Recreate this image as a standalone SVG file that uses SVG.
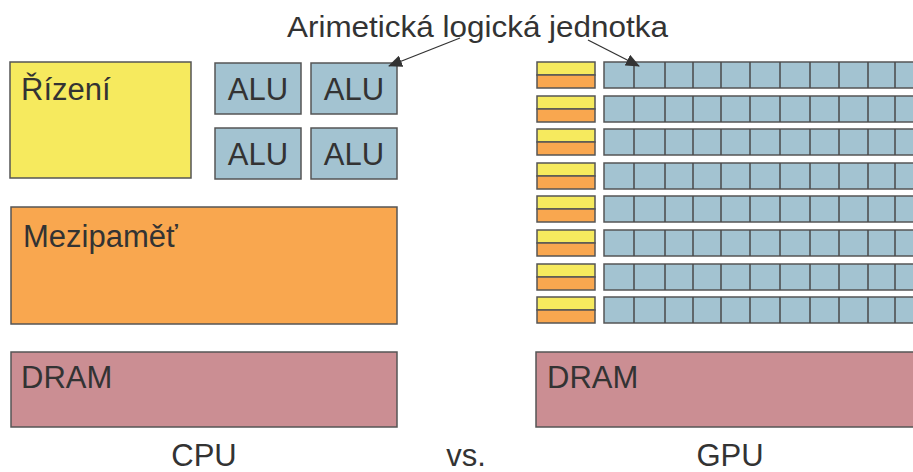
<svg xmlns="http://www.w3.org/2000/svg" width="913" height="472" viewBox="0 0 913 472">
  <style>
    text { font-family: "Liberation Sans", Arial, sans-serif; fill: #333333; }
    .lbl { font-size: 31px; }
    .box { stroke: #555555; stroke-width: 1.5; }
    .ctl { fill: #F6EA5E; }
    .cache { fill: #F9A74F; }
    .alu { fill: #A3C3D1; }
    .dram { fill: #CB8E93; }
    .cell { stroke: #4a4a4a; stroke-width: 1.5; }
    .conn { stroke: #333333; stroke-width: 1.3; fill: none; marker-end: url(#head); }
  </style>
  <defs>
    <marker id="head" viewBox="0 0 14 12" refX="13" refY="6" markerWidth="14" markerHeight="12" markerUnits="userSpaceOnUse" orient="auto">
      <path d="M0,0 L14,6 L0,12 z" fill="#333333"/>
    </marker>
    <!-- one GPU row: control/cache block and a strip of ALU cells -->
    <g id="gpuRow">
      <rect class="box ctl" x="537" y="0" width="58" height="13"/>
      <rect class="box cache" x="537" y="13" width="58" height="13"/>
      <rect class="box alu" x="604" y="0" width="320" height="26"/>
      <path class="cell" d="M634,0v26M665,0v26M693,0v26M721,0v26M750,0v26M780,0v26M810,0v26M839,0v26M868,0v26M895,0v26"/>
    </g>
  </defs>

  <rect width="913" height="472" fill="#ffffff"/>

  <!-- CPU side -->
  <g id="cpu-control">
    <rect class="box ctl" x="10" y="62" width="181" height="116"/>
    <text class="lbl" x="21" y="100">Řízení</text>
  </g>
  <g id="cpu-alu-1">
    <rect class="box alu" x="215" y="63" width="86" height="51"/>
    <text class="lbl" x="258" y="100" text-anchor="middle">ALU</text>
  </g>
  <g id="cpu-alu-2">
    <rect class="box alu" x="311" y="63" width="86" height="51"/>
    <text class="lbl" x="354" y="100" text-anchor="middle">ALU</text>
  </g>
  <g id="cpu-alu-3">
    <rect class="box alu" x="215" y="128" width="86" height="51"/>
    <text class="lbl" x="258" y="165" text-anchor="middle">ALU</text>
  </g>
  <g id="cpu-alu-4">
    <rect class="box alu" x="311" y="128" width="86" height="51"/>
    <text class="lbl" x="354" y="165" text-anchor="middle">ALU</text>
  </g>
  <g id="cpu-cache">
    <rect class="box cache" x="11" y="207" width="386" height="117"/>
    <text class="lbl" x="23" y="247">Mezipaměť</text>
  </g>
  <g id="cpu-dram">
    <rect class="box dram" x="11" y="352" width="386" height="75"/>
    <text class="lbl" x="21" y="388">DRAM</text>
  </g>
  <g id="cpu-label">
    <text class="lbl" x="204" y="466" text-anchor="middle">CPU</text>
  </g>

  <g id="vs-label">
    <text class="lbl" x="466" y="466" text-anchor="middle">vs.</text>
  </g>

  <!-- GPU side -->
  <g id="gpu-row-1"><use href="#gpuRow" y="62"/></g>
  <g id="gpu-row-2"><use href="#gpuRow" y="96"/></g>
  <g id="gpu-row-3"><use href="#gpuRow" y="129"/></g>
  <g id="gpu-row-4"><use href="#gpuRow" y="163"/></g>
  <g id="gpu-row-5"><use href="#gpuRow" y="196"/></g>
  <g id="gpu-row-6"><use href="#gpuRow" y="230"/></g>
  <g id="gpu-row-7"><use href="#gpuRow" y="264"/></g>
  <g id="gpu-row-8"><use href="#gpuRow" y="297"/></g>
  <g id="gpu-dram">
    <rect class="box dram" x="536" y="352" width="390" height="75"/>
    <text class="lbl" x="547" y="388">DRAM</text>
  </g>
  <g id="gpu-label">
    <text class="lbl" x="730" y="466" text-anchor="middle">GPU</text>
  </g>

  <g id="alu-caption">
    <text x="287" y="37" font-size="30" textLength="381" lengthAdjust="spacingAndGlyphs">Arimetická logická jednotka</text>
  </g>

  <g id="connectors">
    <line class="conn" x1="460" y1="38" x2="389" y2="66"/>
    <line class="conn" x1="588" y1="40" x2="639" y2="66"/>
  </g>
</svg>
